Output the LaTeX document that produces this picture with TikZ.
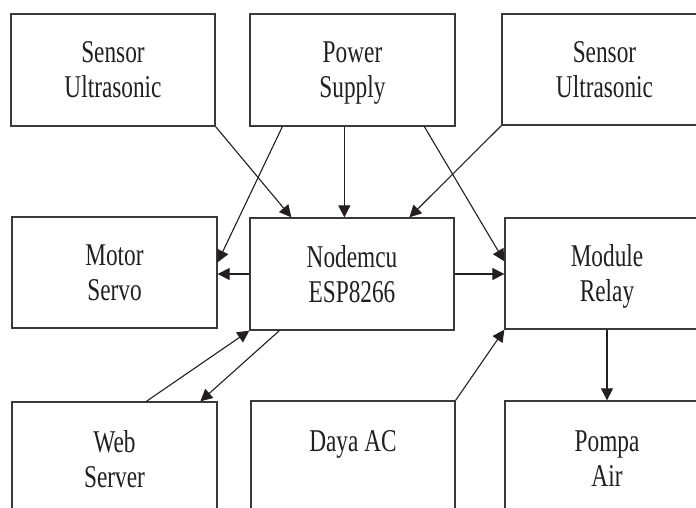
\documentclass[tikz,border=0pt]{standalone}
\usepackage{fontspec}
\setmainfont{Liberation Serif}[FakeStretch=0.735]
\usetikzlibrary{arrows.meta,calc}
\definecolor{ink}{HTML}{231F20}
\definecolor{frame}{HTML}{3A3A3A}
\begin{document}
\begin{tikzpicture}[x=1pt,y=-1pt,
  blk/.style={draw=frame,line width=1.3pt,inner sep=0pt,
    minimum width=205pt,minimum height=112pt,align=center,
    text=ink,font=\fontsize{31.7}{35}\selectfont,text depth=0pt},
  conn/.style={draw=ink,line width=1.1pt,-{Triangle[length=12pt,width=12pt]}}]
\clip (0,0) rectangle (696,508);
\fill[white] (0,0) rectangle (696,508);
\node[blk,minimum width=204pt] (sl) at (113,70) {Sensor\\Ultrasonic};
\node[blk] (ps) at (352.5,70) {Power\\Supply};
\node[blk,minimum height=111pt] (sr) at (604.5,69.5) {Sensor\\Ultrasonic};
\node[blk,minimum height=111pt] (ms) at (114.5,272.5) {Motor\\Servo};
\node[blk,minimum width=204pt] (nm) at (352,274) {Nodemcu\\ESP8266};
\node[blk,minimum width=204pt,minimum height=111pt] (mr) at (607,273.5) {Module\\Relay};
\node[blk,minimum height=114pt] (ws) at (114.5,459) {Web\\Server};
\node[blk,minimum width=204pt,minimum height=115pt] (da) at (353,458.5) {Daya AC\\\mbox{}};
\node[blk,minimum width=204pt,minimum height=115pt] (pa) at (607,458.5) {Pompa\\Air};
\draw[conn] (sl.south east) -- ([xshift=42pt]nm.north west);
\draw[conn] ([xshift=33pt]ps.south west) -- ([yshift=-46pt]ms.north east);
\draw[conn] ([xshift=95pt]ps.south west) -- ([xshift=95pt]nm.north west);
\draw[conn] ([xshift=175pt]ps.south west) -- ([yshift=-44pt]mr.north west);
\draw[conn] (sr.south west) -- ([xshift=160pt]nm.north west);
\draw[conn] (nm.west) -- (nm.west -| ms.east);
\draw[conn] (nm.east) -- (nm.east -| mr.west);
\draw[conn] ([xshift=135pt]ws.north west) -- (nm.south west);
\draw[conn] ([xshift=30pt]nm.south west) -- ([xshift=189pt]ws.north west);
\draw[conn] (da.north east) -- (mr.south west);
\draw[conn] (mr.south) -- (pa.north);
\end{tikzpicture}
\end{document}
